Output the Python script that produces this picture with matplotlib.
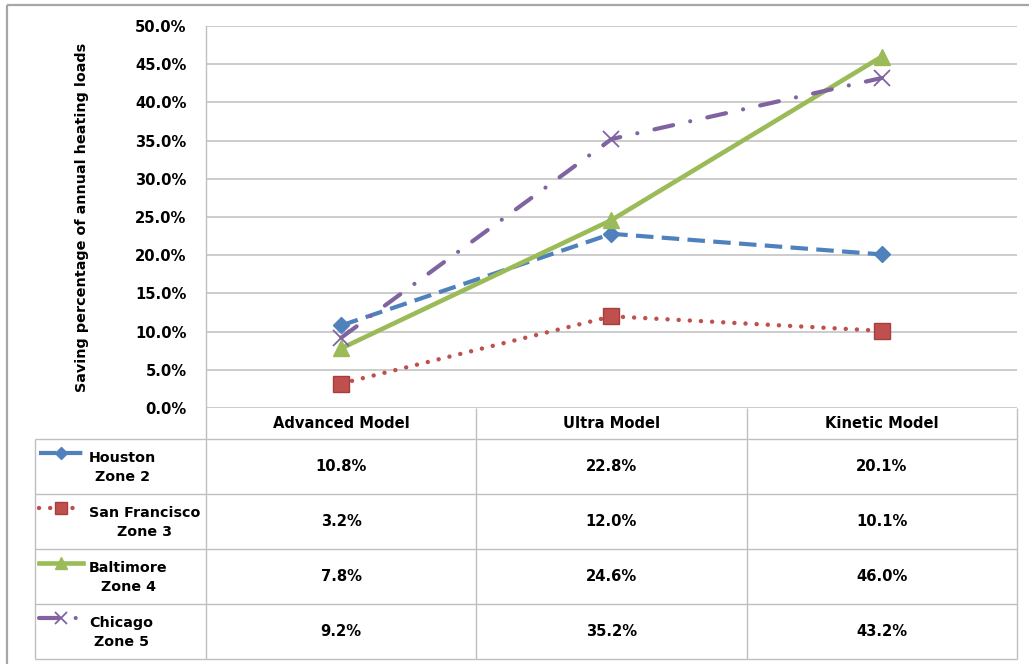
import matplotlib
matplotlib.use("Agg")
import matplotlib.pyplot as plt
from matplotlib.transforms import blended_transform_factory

# ---- data -------------------------------------------------------------
models = ["Advanced Model", "Ultra Model", "Kinetic Model"]
series_labels = ["Houston\nZone 2", "San Francisco\nZone 3",
                 "Baltimore\nZone 4", "Chicago\nZone 5"]
houston = [10.8, 22.8, 20.1]
san_francisco = [3.2, 12.0, 10.1]
baltimore = [7.8, 24.6, 46.0]
chicago = [9.2, 35.2, 43.2]
y_ticks = [0, 5, 10, 15, 20, 25, 30, 35, 40, 45, 50]
y_label = "Saving percentage of annual heating loads"

series_values = [houston, san_francisco, baltimore, chicago]

# ---- styles -----------------------------------------------------------
styles = [
    dict(color="#4F81BD", lw=3.0, dashes=(4.2, 2.0), marker="D", ms=8,
         mfc="#4F81BD", mec="#4F81BD"),
    dict(color="#C0504D", lw=3.2, dashes=(0.01, 2.5), dash_capstyle="round",
         marker="s", ms=11, mfc="#C0504D", mec="#A33F3C", mew=1.0),
    dict(color="#9BBB59", lw=3.3, ls="-", marker="^", ms=12,
         mfc="#9BBB59", mec="#9BBB59"),
    dict(color="#8064A2", lw=3.0, dashes=(4.6, 4.2, 0.01, 4.2),
         dash_capstyle="round", marker="x", ms=11, mfc="none",
         mec="#8064A2", mew=1.3),
]

FONT = "DejaVu Sans"
FS = 10.6
FS_LEGEND = 10.3
FS_YLABEL = 10.4
GRID = "#BFBFBF"

W, H = 1029, 664
PLOT_L, PLOT_R, PLOT_T, PLOT_B = 206, 1017, 26, 408
TABLE_L = 35
HEADER_B = 439
ROW_H = 55

plt.rcParams["font.family"] = [FONT]

fig = plt.figure(figsize=(W / 100, H / 100), dpi=100)
fig.patch.set_facecolor("white")

# pixel-coordinate layer for the table and frame
bg = fig.add_axes([0, 0, 1, 1], zorder=1)
bg.set_xlim(0, W)
bg.set_ylim(H, 0)
bg.axis("off")

ax = fig.add_axes([PLOT_L / W, 1 - PLOT_B / H,
                   (PLOT_R - PLOT_L) / W, (PLOT_B - PLOT_T) / H], zorder=2)
ax.set_facecolor("none")
ax.set_xlim(-0.5, len(models) - 0.5)
ax.set_ylim(y_ticks[0], y_ticks[-1])
ax.set_yticks(y_ticks)
ax.set_yticklabels([f"{t:.1f}%" for t in y_ticks], fontsize=FS,
                   fontweight="bold")
ax.set_xticks([])
ax.tick_params(axis="y", length=0, pad=14)
ax.grid(axis="y", color=GRID, lw=1.1)
ax.set_axisbelow(True)
for side in ("top", "right", "bottom"):
    ax.spines[side].set_visible(False)
ax.spines["left"].set_color(GRID)
ax.spines["left"].set_linewidth(1.0)

x = list(range(len(models)))
for vals, st in zip(series_values, styles):
    ax.plot(x, vals, clip_on=False, **st)

fig.text(82 / W, 1 - ((PLOT_T + PLOT_B) / 2) / H, y_label, rotation=90,
         ha="center", va="center", fontsize=FS_YLABEL, fontweight="bold")

# ---- data table -------------------------------------------------------
tcol = blended_transform_factory(ax.transData, bg.transData)
col_edges = [-0.5 + i for i in range(len(models) + 1)]
n_rows = len(series_values)
table_b = HEADER_B + n_rows * ROW_H
line_kw = dict(color=GRID, lw=1.0, solid_capstyle="butt")

# header row verticals
for ce in col_edges:
    bg.plot([ce, ce], [PLOT_B, HEADER_B], transform=tcol, **line_kw)
# body verticals
for ce in col_edges:
    bg.plot([ce, ce], [HEADER_B, table_b], transform=tcol, **line_kw)
bg.plot([TABLE_L, TABLE_L], [HEADER_B, table_b], **line_kw)
# horizontals
for r in range(n_rows + 1):
    yy = HEADER_B + r * ROW_H
    bg.plot([TABLE_L, PLOT_R], [yy, yy], **line_kw)

for i, m in enumerate(models):
    bg.text(i, (PLOT_B + HEADER_B) / 2, m, transform=tcol, ha="center",
            va="center", fontsize=FS, fontweight="bold")

for r, (vals, lab, st) in enumerate(zip(series_values, series_labels, styles)):
    top = HEADER_B + r * ROW_H
    mid = top + ROW_H / 2
    for i, v in enumerate(vals):
        bg.text(i, mid, f"{v:.1f}%", transform=tcol, ha="center",
                va="center", fontsize=FS, fontweight="bold")
    bg.text(89, mid + 1, lab, ha="left", va="center", multialignment="center",
            fontsize=FS_LEGEND, fontweight="bold", linespacing=1.5)
    # legend sample: line with a slightly smaller marker on top
    sy = top + 14
    line_st = {k: v for k, v in st.items()
               if k not in ("marker", "ms", "mfc", "mec", "mew")}
    bg.plot([39, 83], [sy, sy], **line_st)
    mk_st = {k: v for k, v in st.items()
             if k in ("marker", "mfc", "mec", "mew")}
    bg.plot([61], [sy], ls="none", ms=st["ms"] * 0.75, **mk_st)

# outer frame
frame_kw = dict(color="#A6A6A6", lw=1.6, solid_capstyle="butt")
bg.plot([7, 7], [5, H + 5], clip_on=False, **frame_kw)
bg.plot([7, W + 5], [5, 5], clip_on=False, **frame_kw)

fig.savefig("out.png", dpi=100, facecolor="white")
